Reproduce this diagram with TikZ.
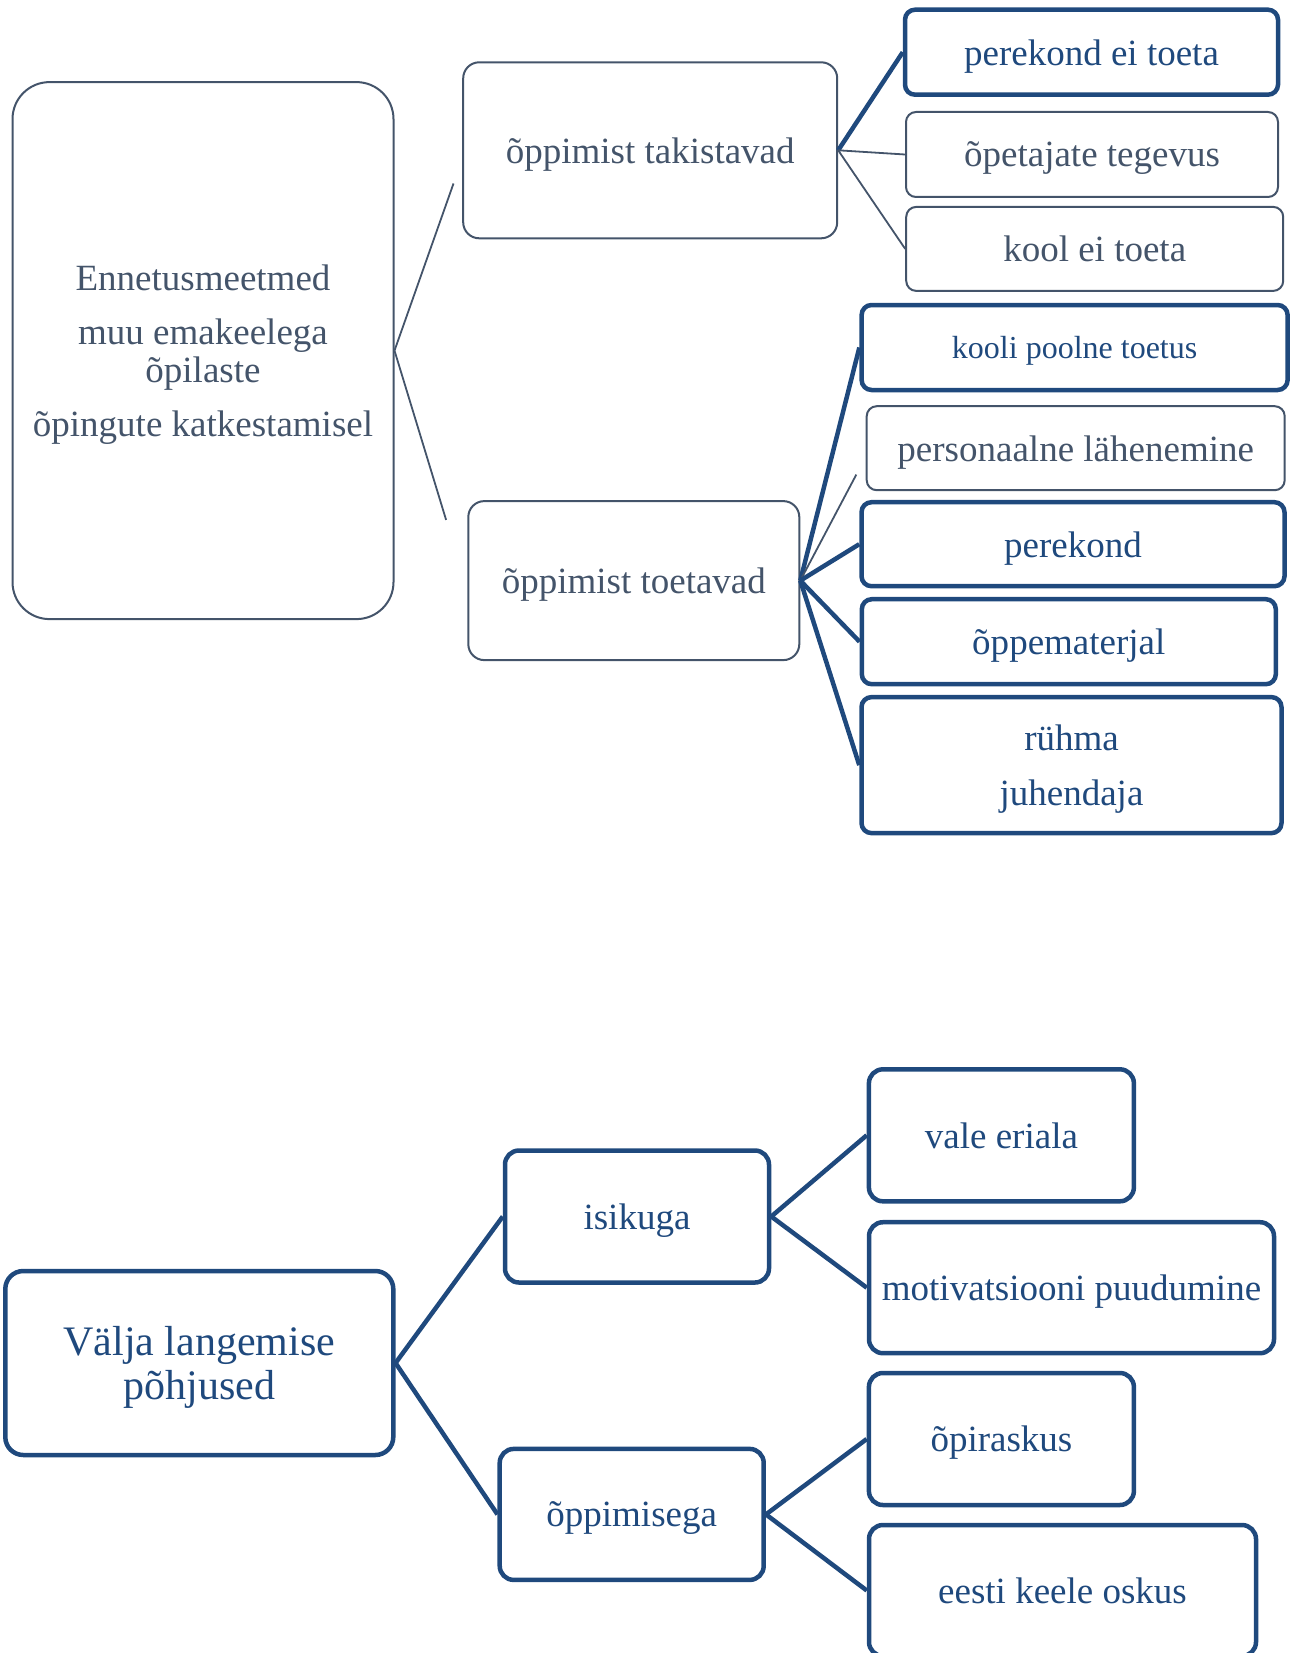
\documentclass[tikz,border=0pt]{standalone}
\usepackage{fontspec}
\setmainfont{Liberation Serif}
\usetikzlibrary{positioning}
\definecolor{slate}{RGB}{68,84,106}
\definecolor{navy}{RGB}{31,73,125}
\newcommand{\boxfont}{\fontsize{37}{38}\selectfont}

\begin{document}
\begin{tikzpicture}[x=1pt, y=-1pt,
            greybox/.style={rectangle, rounded corners=10pt, draw=slate, line width=2pt, text=slate,
                            align=center, inner sep=0pt, text depth=0pt, font=\boxfont},
            bluebox/.style={rectangle, rounded corners=10pt, draw=navy, line width=4.5pt, text=navy,
                            align=center, inner sep=0pt, text depth=0pt, font=\boxfont},
            thinlink/.style={draw=slate, line width=1.8pt},
            bluelink/.style={draw=navy, line width=4.5pt}
        ]
        \useasboundingbox (0,0) rectangle (1295,1653);
        % upper tree
        \node[greybox, rounded corners=37pt, minimum width=381pt, minimum height=537pt] (ennetus) at (203,350.6)
            {Ennetusmeetmed\\[16pt] muu emakeelega\\ õpilaste\\[16pt] õpingute katkestamisel};
        \node[greybox, rounded corners=16pt, minimum width=374pt, minimum height=176pt] (takistavad) at (650.2,150.3) {õppimist takistavad};
        \node[greybox, rounded corners=16pt, minimum width=331pt, minimum height=159pt] (toetavad) at (633.8,580.6) {õppimist toetavad};
        \node[bluebox, minimum width=373pt, minimum height=85pt] (perekondei) at (1091.5,52.2) {perekond ei toeta};
        \node[greybox, minimum width=372pt, minimum height=85pt] (opetajad) at (1092,154.5) {õpetajate tegevus};
        \node[greybox, minimum width=377pt, minimum height=84pt] (koolei) at (1094.7,248.9) {kool ei toeta};
        \node[bluebox, minimum width=426pt, minimum height=85pt, font=\fontsize{32}{34}\selectfont] (koolitoetus) at (1074.6,347.5) {kooli poolne toetus};
        \node[greybox, minimum width=418pt, minimum height=84pt] (personaalne) at (1075.7,448.2) {personaalne lähenemine};
        \node[bluebox, minimum width=423pt, minimum height=84pt] (perekond) at (1073,544.2) {perekond};
        \node[bluebox, minimum width=414pt, minimum height=85pt] (materjal) at (1068.8,641.7) {õppematerjal};
        \node[bluebox, minimum width=420pt, minimum height=136pt] (juhendaja) at (1071.5,765.1) {rühma\\[17pt] juhendaja};
        \coordinate (takend) at (453.5,183.5);
        \coordinate (toeend) at (446.1,519.9);
        \coordinate (persend) at (856.3,474.6);

        \draw[thinlink] (ennetus.east) -- (takend);
        \draw[thinlink] (ennetus.east) -- (toeend);
        \draw[bluelink] (takistavad.east) -- (perekondei.west);
        \draw[thinlink] (takistavad.east) -- (opetajad.west);
        \draw[thinlink] (takistavad.east) -- (koolei.west);
        \draw[bluelink] (toetavad.east) -- (koolitoetus.west);
        \draw[thinlink] (toetavad.east) -- (persend);
        \draw[bluelink] (toetavad.east) -- (perekond.west);
        \draw[bluelink] (toetavad.east) -- (materjal.west);
        \draw[bluelink] (toetavad.east) -- (juhendaja.west);

        % lower tree
        \node[bluebox, rounded corners=18pt, minimum width=388pt, minimum height=184pt,
              font=\fontsize{42}{44}\selectfont] (pohjused) at (199.3,1363) {Välja langemise\\ põhjused};
        \node[bluebox, rounded corners=14pt, minimum width=264pt, minimum height=132pt] (isikuga) at (637,1216.5) {isikuga};
        \node[bluebox, rounded corners=14pt, minimum width=264pt, minimum height=131pt] (oppimisega) at (631.7,1514.4) {õppimisega};
        \node[bluebox, rounded corners=14pt, minimum width=265pt, minimum height=132pt] (eriala) at (1001.4,1135.3) {vale eriala};
        \node[bluebox, rounded corners=14pt, minimum width=405pt, minimum height=131pt] (motivatsioon) at (1071.5,1287.7) {motivatsiooni puudumine};
        \node[bluebox, rounded corners=14pt, minimum width=265pt, minimum height=132pt] (opiraskus) at (1001.4,1439) {õpiraskus};
        \node[bluebox, rounded corners=14pt, minimum width=387pt, minimum height=131pt] (keeleoskus) at (1062.5,1590.5) {eesti keele oskus};

        \draw[bluelink] (pohjused.east) -- (isikuga.west);
        \draw[bluelink] (pohjused.east) -- (oppimisega.west);
        \draw[bluelink] (isikuga.east) -- (eriala.west);
        \draw[bluelink] (isikuga.east) -- (motivatsioon.west);
        \draw[bluelink] (oppimisega.east) -- (opiraskus.west);
        \draw[bluelink] (oppimisega.east) -- (keeleoskus.west);
\end{tikzpicture}
\end{document}
